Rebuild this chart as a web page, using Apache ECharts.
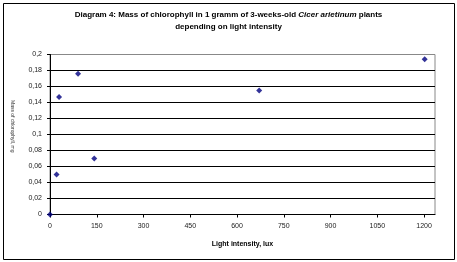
<!DOCTYPE html>
<html><head><meta charset="utf-8">
<script src="https://cdn.jsdelivr.net/npm/echarts@6/dist/echarts.min.js"></script>
<style>html,body{margin:0;padding:0;background:#fff}#c{width:457px;height:262px}</style>
</head><body><div id="c"></div>
<script>
const lightLux = [0, 21, 29, 90, 142, 671, 1202];
const chlorophyll = [0, 0.05, 0.147, 0.176, 0.07, 0.155, 0.194];
const xTicks = [0, 150, 300, 450, 600, 750, 900, 1050, 1200];
const yTicks = [0, 0.02, 0.04, 0.06, 0.08, 0.1, 0.12, 0.14, 0.16, 0.18, 0.2];
const titleLine1 = ['Diagram 4: Mass of chlorophyll in 1 gramm of 3-weeks-old ', 'Cicer arietinum', ' plants'];
const titleLine2 = 'depending on light intensity';
const xName = 'Light intensity, lux';
const yName = 'Mass of chlorophyll, mg';

const fmtY = v => (Math.round(v * 100) / 100).toString().replace('.', ',');
const fmtX = v => String(v);
const points = lightLux.map((x, i) => [x, chlorophyll[i]]);
const splitColors = yTicks.map((v, i) => i === yTicks.length - 1 ? '#888' : '#000');
const FF = 'Liberation Sans, Arial, sans-serif';

const chart = echarts.init(document.getElementById('c'));
chart.setOption({
  animation: false,
  backgroundColor: '#fff',
  textStyle: { fontFamily: FF },
  graphic: [
    { type: 'rect', shape: { x: 3.5, y: 3.5, width: 451, height: 256 }, style: { fill: 'none', stroke: '#000', lineWidth: 1 }, z: -1 },
    { type: 'text', left: 'center', top: 11, style: {
        text: '{b|' + titleLine1[0] + '}{i|' + titleLine1[1] + '}{b|' + titleLine1[2] + '}',
        rich: {
          b: { fontSize: 8, fontWeight: 'bold', fontFamily: FF, fill: '#000' },
          i: { fontSize: 8, fontWeight: 'bold', fontStyle: 'italic', fontFamily: FF, fill: '#000' }
        }
      } },
    { type: 'text', left: 'center', top: 23, style: {
        text: titleLine2, fontSize: 8, fontWeight: 'bold', fontFamily: FF, fill: '#000'
      } },
    { type: 'text', x: 15, y: 100, rotation: -Math.PI / 2, originX: 0, originY: 0,
      style: { text: yName, fontSize: 5, fill: '#333', fontFamily: FF } }
  ],
  grid: { left: 50, top: 54.5, right: 22, bottom: 47.5, show: true, borderColor: '#888', borderWidth: 1, containLabel: false },
  xAxis: {
    type: 'value', min: 0, max: 1235,
    name: xName, nameLocation: 'middle', nameGap: 26,
    nameTextStyle: { fontSize: 7, fontWeight: 'bold', color: '#000' },
    axisLine: { show: true, lineStyle: { color: '#000', width: 1 } },
    axisTick: { show: true, length: 3, lineStyle: { color: '#000' }, customValues: xTicks },
    axisLabel: { fontSize: 7, color: '#222', margin: 8, customValues: xTicks, formatter: fmtX },
    splitLine: { show: false }
  },
  yAxis: {
    type: 'value', min: 0, max: 0.2, interval: 0.02,
    axisLine: { show: true, lineStyle: { color: '#000', width: 1 } },
    axisTick: { show: true, length: 3, lineStyle: { color: '#000' } },
    axisLabel: { fontSize: 7, color: '#222', margin: 8, formatter: fmtY },
    splitLine: { show: true, lineStyle: { color: splitColors, width: 1 } }
  },
  series: [{
    type: 'scatter', data: points, symbol: 'diamond', symbolSize: 6,
    itemStyle: { color: '#000080' }, clip: false, z: 5
  }]
});
</script></body></html>
